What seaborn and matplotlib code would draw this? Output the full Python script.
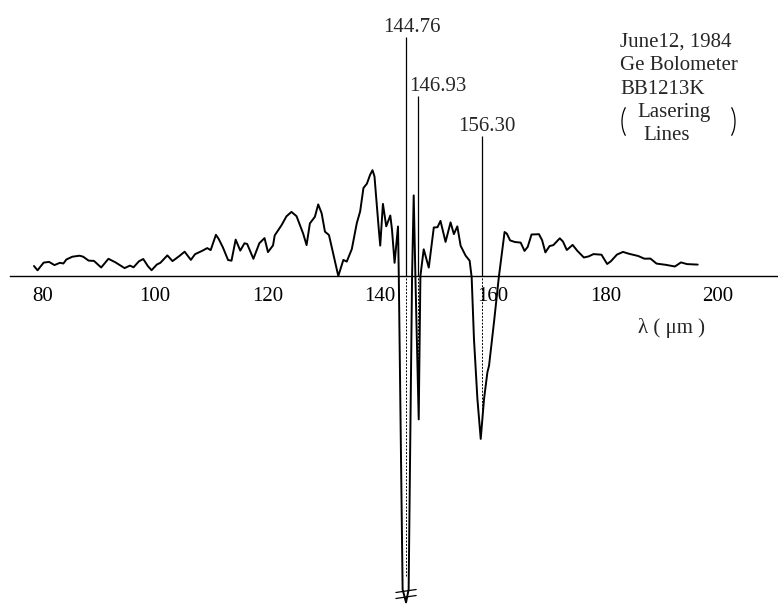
import pandas as pd
import matplotlib
matplotlib.use("Agg")
import matplotlib.pyplot as plt
from matplotlib.patches import Arc
import seaborn as sns

# spectrum (signal in arbitrary units, 0 = axis)
wavelength = [78.47, 79.10, 80.19, 81.15, 82.11, 83.07, 83.70, 84.22, 85.29, 86.58,
              87.21, 88.17, 89.13, 90.41, 91.70, 92.96, 94.57, 95.53, 96.16, 97.12,
              97.89, 98.72, 99.37, 100.31, 100.93, 102.17, 103.09, 104.31, 105.24, 106.35,
              107.09, 108.33, 109.26, 109.87, 110.80, 111.30, 112.04, 112.96, 113.57, 114.31,
              115.13, 115.87, 116.35, 117.46, 118.52, 119.44, 120.05, 120.95, 121.25, 122.45,
              123.34, 124.23, 125.13, 126.30, 126.91, 127.50, 128.39, 128.98, 129.59, 130.18,
              130.89, 132.55, 133.45, 134.05, 134.95, 135.84, 136.43, 137.02, 137.63, 138.21,
              138.63, 138.98, 139.70, 140.00, 140.48, 141.07, 141.79, 142.09, 142.55, 143.16,
              143.30, 143.98, 144.59, 145.05, 145.66, 145.95, 146.25, 146.84, 147.14, 147.73,
              148.63, 149.52, 150.18, 150.71, 151.61, 152.50, 153.09, 153.70, 154.29, 155.18,
              155.89, 156.25, 156.66, 157.27, 157.86, 158.45, 159.05, 159.34, 160.22, 161.08,
              162.10, 162.51, 163.08, 163.93, 164.96, 165.64, 166.21, 166.89, 168.21, 168.77,
              169.35, 170.09, 170.77, 171.91, 172.48, 173.16, 174.19, 175.04, 176.19, 177.04,
              177.90, 179.32, 180.33, 180.98, 182.07, 183.14, 184.23, 185.85, 186.94, 188.02,
              189.11, 190.73, 192.36, 193.45, 194.52, 196.42]
signal = [1.00, 0.57, 1.34, 1.41, 1.09, 1.32, 1.25, 1.65, 1.93, 2.03,
          1.93, 1.54, 1.51, 0.85, 1.72, 1.36, 0.79, 1.04, 0.87, 1.47,
          1.70, 0.98, 0.58, 1.15, 1.32, 2.06, 1.49, 2.00, 2.43, 1.61,
          2.18, 2.51, 2.79, 2.59, 4.12, 3.70, 2.86, 1.60, 1.53, 3.64,
          2.54, 3.27, 3.21, 1.72, 3.28, 3.79, 2.39, 3.06, 4.06, 5.07,
          5.97, 6.41, 5.98, 4.25, 3.09, 5.26, 5.92, 7.16, 6.27, 4.43,
          4.10, 0.00, 1.61, 1.44, 2.69, 5.29, 6.45, 8.80, 9.23, 10.13,
          10.58, 9.96, 4.97, 3.04, 7.21, 4.97, 6.05, 4.65, 1.32, 4.95,
          0.00, -31.35, -32.64, -31.34, 0.00, 8.06, 0.00, -14.34, 0.00, 2.67,
          0.84, 4.85, 4.88, 5.51, 3.41, 5.36, 4.19, 4.96, 3.02, 2.03,
          1.53, -0.13, -6.30, -12.29, -16.29, -12.29, -9.62, -8.96, -4.61, -0.11,
          4.40, 4.23, 3.56, 3.40, 3.34, 2.51, 2.91, 4.15, 4.18, 3.58,
          2.36, 2.99, 3.09, 3.77, 3.44, 2.60, 3.11, 2.51, 1.85, 1.96,
          2.19, 2.13, 1.20, 1.47, 2.14, 2.41, 2.22, 2.00, 1.73, 1.74,
          1.24, 1.12, 0.95, 1.36, 1.19, 1.14]

# lasering lines: label, where the marker is drawn, marker top, depth inside the dip
line_labels = ["144.76", "146.93", "156.30"]
line_pos = [144.6, 146.8, 158.0]
line_top = [23.9, 18.0, 14.0]
line_bottom = [-30.0, -14.0, -14.0]

x_ticks = [80, 100, 120, 140, 160, 180, 200]
note_lines = ["June12, 1984", "Ge Bolometer", "BB1213K"]

df = pd.DataFrame({"wl": wavelength, "sig": signal})

sns.set_style("white")
plt.rcParams['font.family'] = ['Liberation Serif', 'DejaVu Serif']

fig = plt.figure(figsize=(7.78, 6.06), dpi=100)
ax = fig.add_axes([0, 0, 1, 1])

sns.lineplot(data=df, x="wl", y="sig", color="black", lw=1.4,
             estimator=None, sort=False, ax=ax)

# vertical markers for the laser lines
ax.vlines(line_pos, 0, line_top, color="black", lw=0.9)
ax.vlines(line_pos, line_bottom, 0, color="black", lw=0.7, linestyles=(0, (2, 1.5)))

offsets = [(0.95, "center"), (-1.6, "left"), (1.0, "center")]
for lab, xp, top, (dx, ha) in zip(line_labels, line_pos, line_top, offsets):
    ax.text(xp + dx, top + 0.5, lab, ha=ha, va="baseline", fontsize=15)

# break mark on the deepest dip
deep = df.loc[df["sig"].idxmin(), "wl"]
for yb in (-31.5, -32.1):
    ax.plot([deep - 1.8, deep + 1.8], [yb - 0.15, yb + 0.15], color="black", lw=0.9)

ax.set_xlim(72.43, 210.69)
ax.set_ylim(-33.0, 27.6)

for side in ["left", "top", "right"]:
    ax.spines[side].set_visible(False)
ax.spines["bottom"].set_position(("data", 0))
ax.spines["bottom"].set_bounds(74.2, 210.69)
ax.spines["bottom"].set_linewidth(1.0)
ax.spines["bottom"].set_color("black")

ax.set_xticks(x_ticks)
ax.set_yticks([])
ax.tick_params(axis="x", direction="inout", length=10, width=1.0,
               labelsize=15, pad=3, colors="black")
ax.set_xlabel("")
ax.set_ylabel("")
ax.grid(False)

fig.text(672 / 778, 1 - 333 / 606, "λ ( μm )", ha="center", va="baseline", fontsize=15)

# note in the upper right corner
for i, t in enumerate(note_lines):
    fig.text(620 / 778, 1 - (47 + 23.5 * i) / 606, t, ha="left", va="baseline", fontsize=15)
fig.text(637 / 778, 1 - 117 / 606, "Lasering", ha="left", va="baseline", fontsize=15)
fig.text(643 / 778, 1 - 140 / 606, "Lines", ha="left", va="baseline", fontsize=15)
fig.add_artist(Arc((634 / 778, 1 - 121.5 / 606), 24 / 778, 40 / 606, theta1=115, theta2=245,
                   transform=fig.transFigure, color="black", lw=0.9))
fig.add_artist(Arc((723 / 778, 1 - 121.5 / 606), 24 / 778, 40 / 606, theta1=-65, theta2=65,
                   transform=fig.transFigure, color="black", lw=0.9))

fig.savefig("out.png", dpi=100)
